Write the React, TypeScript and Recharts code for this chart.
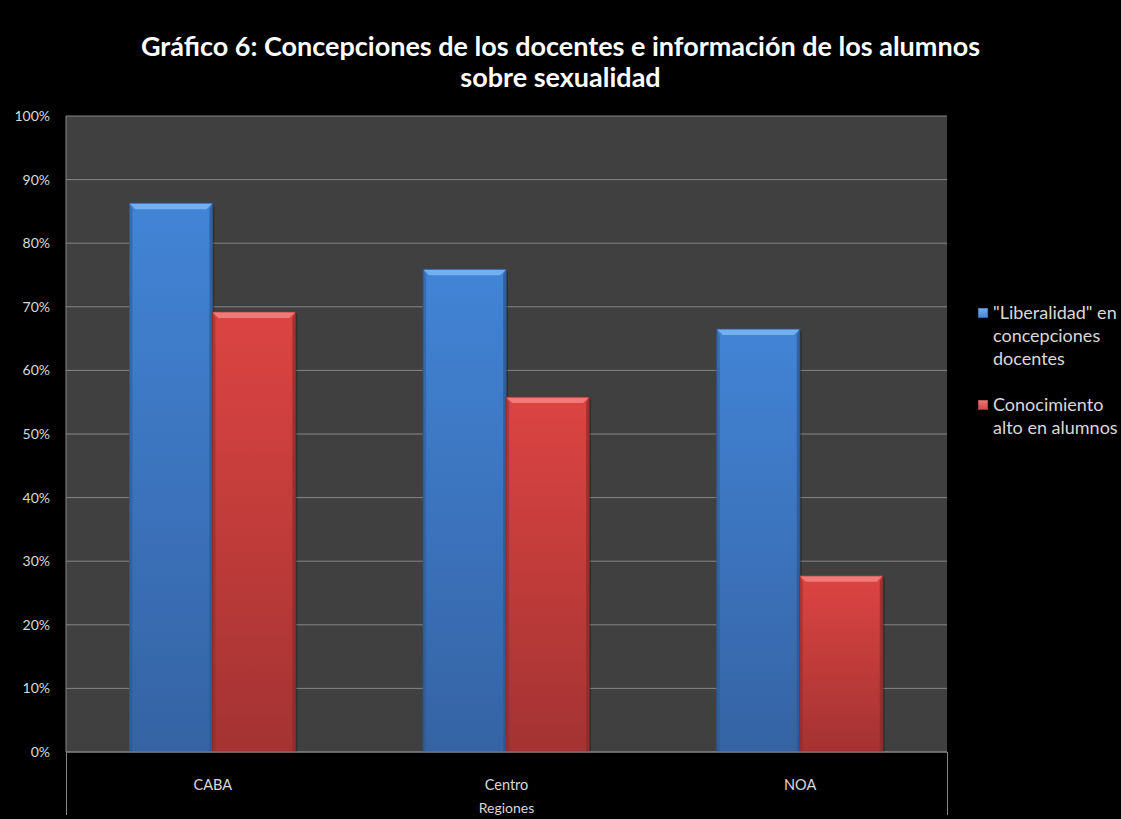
import React from "react";
import { BarChart, Bar, XAxis, YAxis, CartesianGrid } from "recharts";

const regions = ["CABA", "Centro", "NOA"];
const liberalidad = [0.863, 0.759, 0.665];
const conocimiento = [0.692, 0.558, 0.277];
const yTicks = [0, 0.1, 0.2, 0.3, 0.4, 0.5, 0.6, 0.7, 0.8, 0.9, 1];

const seriesNames = {
  liberalidad: "\"Liberalidad\" en concepciones docentes",
  conocimiento: "Conocimiento alto en alumnos",
};

const W = 1121;
const H = 819;
const Y_AXIS_W = 66;
const X_AXIS_H = 67;
const margin = { top: 116, right: 174, bottom: 0, left: 0 };
const FONT = "Lato, 'Open Sans', sans-serif";

const data = regions.map((region, i) => ({
  region,
  liberalidad: liberalidad[i],
  conocimiento: conocimiento[i],
}));

const palettes: Record<string, { top: string; bottom: string; bevel: string; edge: string }> = {
  blue: { top: "#4284d6", bottom: "#3563a4", bevel: "#72b0f2", edge: "#2b5590" },
  red: { top: "#dc4442", bottom: "#a33332", bevel: "#f07a78", edge: "#8c2a29" },
};

// beveled bar, roughly like the office 3D bar style
function BevelBar(props: any) {
  const { x, y, width, height, tone, index } = props;
  if (height <= 0) return null;
  const p = palettes[tone];
  const b = Math.min(6, height / 2);
  const id = `g-${tone}-${index}`;
  return (
    <g>
      <defs>
        <linearGradient id={id} x1="0" y1="0" x2="0" y2="1">
          <stop offset="0%" stopColor={p.top} />
          <stop offset="100%" stopColor={p.bottom} />
        </linearGradient>
      </defs>
      <rect x={x + 2} y={y + 2} width={width} height={height - 2} fill="#000" opacity={0.25} />
      <rect x={x} y={y} width={width} height={height} fill={`url(#${id})`} />
      <polygon
        points={`${x},${y} ${x + width},${y} ${x + width - b},${y + b} ${x + b},${y + b}`}
        fill={p.bevel}
      />
      <polygon
        points={`${x},${y} ${x + b / 2},${y + b} ${x + b / 2},${y + height} ${x},${y + height}`}
        fill={p.edge}
        opacity={0.5}
      />
      <polygon
        points={`${x + width},${y} ${x + width - b / 2},${y + b} ${x + width - b / 2},${y + height} ${x + width},${y + height}`}
        fill={p.edge}
        opacity={0.7}
      />
      <rect x={x} y={y} width={width} height={height} fill="none" stroke={p.edge} strokeWidth={0.8} />
    </g>
  );
}

function CategoryTick(props: any) {
  const { x, y, payload } = props;
  return (
    <text x={x} y={y + 26} textAnchor="middle" dominantBaseline="middle" fill="#d9d9d9" fontSize={14.5} fontFamily={FONT}>
      {payload.value}
    </text>
  );
}

function LegendBox() {
  const items = [
    { key: "liberalidad", color: "#4284d6", bevel: "#72b0f2", lines: ["\"Liberalidad\" en", "concepciones", "docentes"] },
    { key: "conocimiento", color: "#d24240", bevel: "#f07a78", lines: ["Conocimiento", "alto en alumnos"] },
  ];
  return (
    <div style={{ fontFamily: FONT, fontSize: 18, color: "#d9d9d9", lineHeight: "23px" }}>
      {items.map((it, i) => (
        <div key={it.key} style={{ display: "flex", alignItems: "flex-start", marginBottom: i === 0 ? 23 : 0 }} title={seriesNames[it.key as keyof typeof seriesNames]}>
          <span
            style={{
              width: 10,
              height: 10,
              marginTop: 7,
              marginRight: 5,
              flex: "none",
              background: `linear-gradient(${it.bevel}, ${it.color})`,
              boxShadow: "inset 0 0 0 1px rgba(0,0,0,0.25)",
            }}
          />
          <div style={{ whiteSpace: "nowrap" }}>
            {it.lines.map((l) => (
              <div key={l}>{l}</div>
            ))}
          </div>
        </div>
      ))}
    </div>
  );
}

export default function App() {
  const plotLeft = Y_AXIS_W;
  const plotRight = W - margin.right;
  const plotBottom = H - X_AXIS_H;
  return (
    <div style={{ position: "absolute", left: 0, top: 0, width: W, height: H, background: "#000", overflow: "hidden" }}>
      <div
        style={{
          position: "absolute",
          left: 0,
          top: 30,
          width: W,
          textAlign: "center",
          color: "#ffffff",
          fontFamily: FONT,
          fontWeight: 700,
          fontSize: 27,
          lineHeight: "31px",
        }}
      >
        Gráfico 6: Concepciones de los docentes e información de los alumnos
        <br />
        sobre sexualidad
      </div>
      <BarChart width={W} height={H} data={data} margin={margin} barCategoryGap="21.6%" barGap={0}>
        <CartesianGrid horizontal vertical={false} stroke="#858585" strokeWidth={1} fill="#404040" />
        <XAxis
          dataKey="region"
          tick={<CategoryTick />}
          tickLine={false}
          axisLine={{ stroke: "#868686" }}
          height={X_AXIS_H}
          interval={0}
        />
        <YAxis
          domain={[0, 1]}
          ticks={yTicks}
          tickFormatter={(v: number) => `${Math.round(v * 100)}%`}
          tick={{ fill: "#d9d9d9", fontSize: 14, fontFamily: FONT }}
          tickLine={false}
          tickSize={0}
          tickMargin={16}
          axisLine={{ stroke: "#868686" }}
          width={Y_AXIS_W}
        />
        <Bar dataKey="liberalidad" name={seriesNames.liberalidad} isAnimationActive={false} shape={<BevelBar tone="blue" />} />
        <Bar dataKey="conocimiento" name={seriesNames.conocimiento} isAnimationActive={false} shape={<BevelBar tone="red" />} />
      </BarChart>
      <div style={{ position: "absolute", left: 978, top: 301 }}>
        <LegendBox />
      </div>
      {/* frame lines below the plot area, around the category row */}
      <div style={{ position: "absolute", left: plotLeft, top: plotBottom, width: 1, height: 63, background: "#868686" }} />
      <div style={{ position: "absolute", left: plotRight, top: plotBottom, width: 1, height: 63, background: "#868686" }} />
      <div
        style={{
          position: "absolute",
          left: plotLeft,
          width: plotRight - plotLeft,
          top: 799,
          textAlign: "center",
          color: "#d9d9d9",
          fontFamily: FONT,
          fontSize: 14,
        }}
      >
        Regiones
      </div>
    </div>
  );
}
